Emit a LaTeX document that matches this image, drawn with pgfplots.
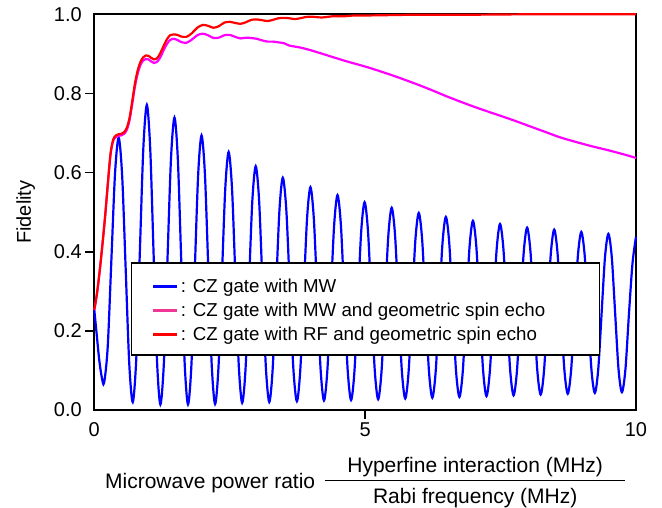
\documentclass[border=0pt]{standalone}
\usepackage{pgfplots}
\pgfplotsset{compat=1.18}
\usepackage{fontspec}
\setmainfont{Liberation Sans}
\definecolor{cblue}{RGB}{0,0,255}
\definecolor{cmag}{RGB}{255,0,255}
\definecolor{cred}{RGB}{255,0,0}
\definecolor{cpink}{RGB}{240,55,150}
\begin{document}
\begin{tikzpicture}
\begin{axis}[
  name=ax,
  scale only axis, width=541.7pt, height=395.7pt,
  xmin=0, xmax=10, ymin=0, ymax=1,
  clip=false,
  axis line style={line width=1.6pt},
  tick pos=left, tick align=outside,
  major tick length=9pt,
  tick style={line width=1.6pt, black},
  xtick={5}, xticklabels={5},
  extra x ticks={0,10}, extra x tick labels={0,10},
  ytick={0.2,0.4,0.6,0.8}, yticklabels={0.2,0.4,0.6,0.8},
  extra y ticks={0,1}, extra y tick labels={0.0,1.0},
  extra tick style={tick style={draw=none}},
  tick label style={font=\fontsize{20}{24}\selectfont},
  xlabel={Microwave power ratio\hspace{10pt}\raisebox{-15pt}{\vbox{\hbox to 300pt{\hss Hyperfine interaction (MHz)\hss}\kern2.95pt\hrule height 1.3pt\kern6.65pt\hbox to 300pt{\hss Rabi frequency (MHz)\hss}}}},
  xlabel style={at={(axis description cs:0.5,0)}, anchor=north, yshift=-47.2pt, inner sep=0pt, font=\fontsize{21}{25}\selectfont},
  ylabel={Fidelity},
  ylabel style={at={(axis description cs:-0.1091,0.5)}, anchor=south, inner sep=0pt, font=\fontsize{20}{24}\selectfont},
  legend style={at={(axis description cs:0.0678,0.373)}, anchor=north west, draw=black, line width=1.3pt, fill=white,
    inner xsep=20pt, inner ysep=10.25pt, font=\fontsize{18.7}{22}\selectfont,
    nodes={inner ysep=1.65pt, text height=17.5pt, text depth=3pt}, row sep=0pt, column sep=0pt},
  legend cell align=left,
  legend image code/.code={\draw[#1] (0pt,-1.65pt) -- (24pt,-1.65pt);},
]
\addlegendimage{cblue, line width=3.2pt}
\addlegendentry{: CZ gate with MW}
\addlegendimage{cpink, line width=3.2pt}
\addlegendentry{: CZ gate with MW and geometric spin echo\hspace*{32pt}}
\addlegendimage{cred, line width=3.2pt}
\addlegendentry{: CZ gate with RF and geometric spin echo}

\addplot[cblue, line width=2.2pt, smooth, forget plot] coordinates {
(0,0.253)(0.045,0.19)(0.09,0.128)(0.135,0.085)(0.18,0.068)
(0.2475,0.159)(0.315,0.378)(0.3825,0.597)(0.45,0.688)
(0.515,0.590)(0.58,0.354)(0.645,0.118)(0.71,0.020)
(0.775,0.130)(0.84,0.396)(0.905,0.661)(0.97,0.771)
(1.0325,0.660)(1.095,0.393)(1.1575,0.125)(1.22,0.014)
(1.285,0.120)(1.35,0.377)(1.415,0.633)(1.48,0.739)
(1.5425,0.633)(1.605,0.377)(1.6675,0.120)(1.73,0.014)
(1.7925,0.113)(1.855,0.354)(1.9175,0.595)(1.98,0.694)
(2.0425,0.595)(2.105,0.355)(2.1675,0.114)(2.23,0.015)
(2.2925,0.108)(2.355,0.334)(2.4175,0.559)(2.48,0.652)
(2.5425,0.559)(2.605,0.335)(2.6675,0.111)(2.73,0.018)
(2.7925,0.105)(2.855,0.317)(2.9175,0.529)(2.98,0.616)
(3.0425,0.529)(3.105,0.318)(3.1675,0.107)(3.23,0.020)
(3.2925,0.103)(3.355,0.304)(3.4175,0.504)(3.48,0.587)
(3.545,0.505)(3.61,0.305)(3.675,0.104)(3.74,0.022)
(3.8025,0.101)(3.865,0.293)(3.9275,0.484)(3.99,0.563)
(4.0525,0.484)(4.115,0.294)(4.1775,0.103)(4.24,0.024)
(4.3025,0.100)(4.365,0.284)(4.4275,0.467)(4.49,0.543)
(4.5525,0.467)(4.615,0.284)(4.6775,0.101)(4.74,0.025)
(4.8025,0.098)(4.865,0.275)(4.9275,0.452)(4.99,0.525)
(5.0525,0.452)(5.115,0.276)(5.1775,0.100)(5.24,0.027)
(5.3025,0.098)(5.365,0.269)(5.4275,0.440)(5.49,0.511)
(5.5525,0.441)(5.615,0.270)(5.6775,0.099)(5.74,0.029)
(5.8025,0.097)(5.865,0.264)(5.9275,0.430)(5.99,0.498)
(6.0525,0.430)(6.115,0.265)(6.1775,0.099)(6.24,0.031)
(6.3025,0.098)(6.365,0.260)(6.4275,0.421)(6.49,0.488)
(6.5525,0.422)(6.615,0.261)(6.6775,0.099)(6.74,0.033)
(6.8025,0.098)(6.865,0.256)(6.9275,0.413)(6.99,0.478)
(7.0525,0.413)(7.115,0.257)(7.1775,0.100)(7.24,0.035)
(7.3025,0.099)(7.365,0.253)(7.4275,0.406)(7.49,0.470)
(7.5525,0.407)(7.615,0.254)(7.6775,0.100)(7.74,0.037)
(7.8025,0.099)(7.865,0.249)(7.9275,0.399)(7.99,0.461)
(8.0525,0.399)(8.115,0.250)(8.1775,0.101)(8.24,0.039)
(8.3025,0.100)(8.365,0.248)(8.4275,0.395)(8.49,0.456)
(8.5525,0.395)(8.615,0.249)(8.6775,0.102)(8.74,0.041)
(8.8025,0.101)(8.865,0.246)(8.9275,0.390)(8.99,0.450)
(9.0525,0.391)(9.115,0.247)(9.1775,0.102)(9.24,0.043)
(9.3025,0.102)(9.365,0.244)(9.4275,0.386)(9.49,0.445)
(9.5525,0.387)(9.615,0.245)(9.6775,0.103)(9.74,0.045)
(9.805,0.103)(9.87,0.243)(9.935,0.370)(10.0,0.438)
};
\addplot[cmag, line width=2.2pt, smooth, forget plot] coordinates {
(0,0.253)(0.05,0.295)(0.1,0.352)(0.15,0.418)(0.2,0.49)(0.25,0.571)(0.3,0.646)(0.35,0.681)(0.4,0.69)(0.45,0.693)
(0.5,0.694)(0.55,0.698)(0.6,0.708)(0.65,0.732)(0.7,0.773)(0.75,0.817)(0.8,0.85)(0.85,0.871)(0.9,0.883)(0.95,0.887)
(1.0,0.886)(1.05,0.881)(1.1,0.877)(1.15,0.879)(1.2,0.887)(1.25,0.9)(1.3,0.915)(1.35,0.927)(1.4,0.935)(1.45,0.938)
(1.5,0.937)(1.55,0.934)(1.6,0.93)(1.7,0.928)(1.8,0.936)(1.9,0.947)(2.0,0.951)(2.1,0.947)(2.2,0.94)(2.3,0.941)
(2.4,0.947)(2.5,0.948)(2.6,0.943)(2.7,0.939)(2.8,0.941)(2.9,0.94)(3.0,0.938)(3.1,0.934)(3.2,0.931)(3.3,0.931)
(3.4,0.929)(3.5,0.927)(3.6,0.921)(3.8,0.916)(4.0,0.909)(4.33,0.895)(4.66,0.881)(5.0,0.868)(5.3,0.855)(5.6,0.841)
(5.9,0.826)(6.2,0.81)(6.5,0.793)(6.8,0.777)(7.1,0.762)(7.4,0.748)(7.7,0.734)(8.0,0.719)(8.3,0.704)(8.6,0.689)
(8.9,0.677)(9.2,0.666)(9.5,0.656)(9.8,0.645)(10.0,0.637)
};
\addplot[cred, line width=2.2pt, smooth, forget plot] coordinates {
(0,0.253)(0.05,0.295)(0.1,0.352)(0.15,0.418)(0.2,0.49)(0.25,0.572)(0.3,0.648)(0.35,0.684)(0.4,0.694)(0.45,0.697)
(0.5,0.698)(0.55,0.702)(0.6,0.713)(0.65,0.738)(0.7,0.78)(0.75,0.825)(0.8,0.858)(0.85,0.879)(0.9,0.891)(0.95,0.896)
(1.0,0.895)(1.05,0.89)(1.1,0.886)(1.15,0.888)(1.2,0.897)(1.25,0.911)(1.3,0.926)(1.35,0.939)(1.4,0.947)(1.45,0.949)
(1.5,0.949)(1.55,0.947)(1.6,0.944)(1.7,0.943)(1.8,0.952)(1.9,0.966)(2.0,0.973)(2.1,0.971)(2.2,0.966)(2.3,0.97)
(2.4,0.979)(2.5,0.981)(2.6,0.978)(2.7,0.976)(2.8,0.98)(2.9,0.986)(3.0,0.987)(3.1,0.985)(3.2,0.983)(3.3,0.986)
(3.4,0.99)(3.5,0.991)(3.6,0.99)(3.7,0.988)(3.8,0.99)(3.9,0.993)(4.0,0.994)(4.2,0.992)(4.4,0.995)(4.6,0.995)
(4.8,0.997)(5.0,0.997)(5.5,0.998)(6.0,0.999)(7.0,0.999)(8.0,1.0)(9.0,1.0)(10.0,1.0)
};
\end{axis}
\pgfresetboundingbox
\path ([shift={(-94.3pt,-98pt)}]ax.south west) rectangle ([shift={(26pt,14.3pt)}]ax.north east);
\end{tikzpicture}
\end{document}
